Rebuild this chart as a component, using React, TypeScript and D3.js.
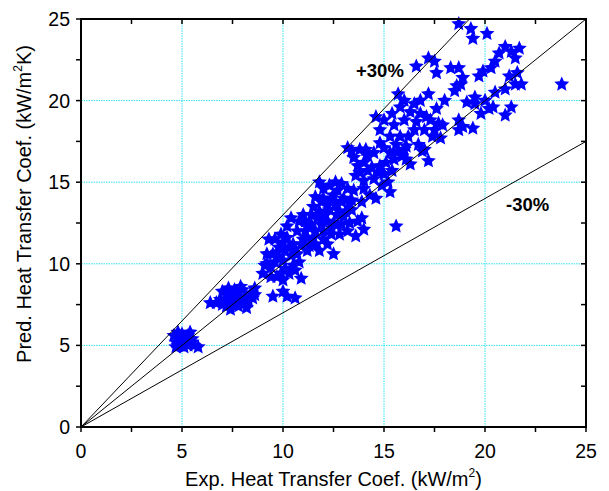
import React from 'react'
import * as d3 from 'd3'

// exp. vs predicted heat transfer coefficient, kW/m2
const lowRange: [number, number][] = [
  [4.6, 5.6], [4.7, 5.2], [4.8, 5.0], [4.9, 5.4], [5.0, 5.7], [5.0, 5.1], [5.1, 4.9],
  [5.2, 5.3], [5.3, 5.0], [5.4, 5.8], [5.5, 5.2], [5.6, 5.0], [5.8, 4.9], [4.8, 5.8],
  [5.2, 5.5], [5.0, 5.3], [4.7, 4.9], [5.3, 5.6], [5.5, 5.4], [4.9, 5.0],
  [6.4, 7.6], [6.7, 7.6], [7.0, 8.3], [7.1, 7.8], [7.2, 7.4], [7.3, 8.5], [7.5, 8.0],
  [7.6, 7.6], [7.7, 8.2], [7.8, 7.4], [8.0, 8.4], [8.1, 7.9], [8.2, 7.3], [8.4, 8.2],
  [8.6, 8.5], [8.5, 7.9], [7.4, 7.2], [6.9, 7.8], [8.0, 7.6], [7.9, 8.6], [7.2, 8.1],
  [7.6, 8.4], [8.3, 7.7], [7.0, 7.5], [7.4, 7.8], [7.8, 8.0], [8.6, 8.1]
]

const midRange: [number, number][] = [
  [9.5, 8.0], [10.0, 8.3], [10.2, 8.0], [10.6, 7.9], [10.9, 9.1], [9.0, 9.4], [9.2, 10.0],
  [9.4, 9.8], [9.5, 10.6], [9.6, 11.5], [9.8, 11.0], [10.0, 10.2], [10.1, 9.7], [10.3, 9.4],
  [10.4, 10.5], [10.5, 11.2], [9.3, 11.5], [9.9, 11.8], [10.2, 12.3], [10.4, 12.8],
  [10.6, 9.6], [9.7, 9.2], [10.8, 10.1], [9.1, 9.9], [9.8, 10.4], [10.3, 11.0],
  [9.9, 9.4], [10.1, 10.8], [10.7, 10.6], [9.6, 10.1], [10.0, 9.0], [10.2, 11.6],
  [9.4, 9.2], [9.7, 10.7], [10.5, 9.9], [10.0, 11.3], [9.2, 10.6], [10.6, 10.9],
  [10.7, 12.0], [10.8, 12.6], [11.0, 11.5], [11.0, 13.0], [11.2, 10.8], [11.3, 12.2],
  [11.5, 11.6], [11.5, 13.5], [11.7, 12.8], [11.8, 10.8], [12.0, 12.0], [12.0, 14.0],
  [12.2, 11.2], [12.3, 13.3], [12.5, 10.6], [12.5, 12.5], [12.7, 14.5], [12.8, 11.8],
  [13.0, 12.9], [13.0, 14.0], [13.2, 12.0], [13.4, 13.3], [13.6, 11.7], [13.7, 12.6],
  [14.0, 12.1], [13.9, 12.8], [11.1, 12.0], [11.4, 12.4], [11.6, 11.2], [11.9, 12.4],
  [12.1, 13.0], [12.4, 11.8], [12.6, 13.6], [12.9, 12.4], [13.3, 13.7], [11.2, 11.6],
  [10.9, 11.2], [11.1, 12.6], [11.3, 11.1], [11.6, 12.0], [11.8, 13.2], [12.2, 12.6],
  [12.4, 12.2], [12.7, 13.0], [12.9, 13.8], [13.1, 13.2], [11.4, 13.0], [12.0, 11.5],
  [11.8, 15.0], [12.0, 14.6], [12.3, 14.8], [12.5, 14.2], [11.9, 13.8], [12.6, 15.0],
  [11.6, 14.1], [12.2, 13.6], [12.8, 13.2], [13.5, 14.5], [12.4, 14.0], [13.2, 14.6],
  [12.9, 14.9], [13.4, 13.9], [12.7, 12.4], [13.3, 12.5]
]

const highRange: [number, number][] = [
  [13.2, 17.1], [13.5, 16.5], [13.6, 15.4], [13.8, 17.0], [14.0, 16.2], [14.0, 14.6],
  [14.2, 15.7], [14.3, 14.2], [14.5, 16.8], [14.5, 15.2], [14.8, 16.0], [15.0, 15.5],
  [15.0, 17.1], [15.3, 14.4], [15.5, 16.4], [15.2, 15.0], [13.9, 13.8], [14.6, 14.0],
  [14.1, 17.0], [13.7, 16.0], [14.4, 15.9], [14.9, 14.8], [15.6, 12.3], [13.8, 15.6],
  [14.2, 16.6], [14.7, 15.6], [15.1, 16.2], [15.4, 15.7], [13.4, 16.9], [14.0, 15.1],
  [15.7, 16.9], [16.1, 17.2], [15.3, 16.8], [14.8, 17.4],
  [14.6, 19.0], [14.8, 18.2], [15.0, 18.8], [15.3, 17.8], [15.5, 18.5], [15.6, 17.3],
  [15.7, 20.4], [15.8, 19.6], [16.0, 17.0], [16.0, 18.8], [16.2, 17.8], [16.3, 16.1],
  [16.5, 19.8], [16.5, 18.2], [16.7, 17.3], [16.8, 20.0], [15.9, 16.6], [16.1, 16.4],
  [15.8, 17.8], [16.3, 19.3], [16.6, 18.7], [15.4, 19.2], [16.0, 20.0],
  [16.6, 22.1], [17.2, 22.6], [17.5, 22.4], [17.6, 21.7], [17.1, 19.0], [17.2, 20.4],
  [17.3, 18.8], [17.0, 17.0], [17.2, 16.3], [17.5, 18.2], [17.7, 18.6], [17.8, 17.7],
  [17.6, 19.5], [17.4, 17.8], [17.9, 18.5], [16.9, 16.9], [17.0, 18.2], [16.8, 19.2],
  [18.7, 24.7], [19.3, 24.4], [19.4, 23.8], [20.1, 24.1], [18.3, 22.0], [18.7, 22.0],
  [18.9, 21.4], [18.8, 21.0], [18.5, 20.6], [18.6, 20.9], [18.0, 20.0], [19.1, 19.9],
  [19.5, 20.2], [19.7, 21.5], [19.9, 21.8], [20.0, 20.0], [19.8, 19.2], [20.2, 19.5],
  [20.3, 22.0], [20.5, 22.4], [20.7, 22.9], [21.0, 23.3], [21.3, 23.0], [21.5, 22.6],
  [21.7, 23.2], [21.2, 21.5], [21.5, 21.0], [21.8, 21.0], [21.0, 20.7], [21.0, 19.1],
  [21.3, 19.6], [19.4, 18.3], [18.7, 18.8], [18.7, 18.2], [18.9, 18.4], [20.5, 20.5],
  [21.6, 21.7], [23.8, 21.0], [20.4, 19.6], [19.5, 19.8]
]

const xTicks = [0, 5, 10, 15, 20, 25]
const yTicks = [0, 5, 10, 15, 20, 25]
const minorTicks = [2.5, 7.5, 12.5, 17.5, 22.5]
const gridValues = [5, 10, 15, 20]
const bandFactors = [1.3, 1, 0.7]

// five-point star with fatter arms than d3.symbolStar
const fatStar = {
  draw(context: any, size: number) {
    const r = Math.sqrt(size / 1.3)
    const ri = r * 0.47
    for (let i = 0; i < 10; i++) {
      const a = (Math.PI / 5) * i - Math.PI / 2
      const rr = i % 2 === 0 ? r : ri
      if (i === 0) context.moveTo(rr * Math.cos(a), rr * Math.sin(a))
      else context.lineTo(rr * Math.cos(a), rr * Math.sin(a))
    }
    context.closePath()
  }
}

const App = () => {
  const margin = {top: 19, right: 23, bottom: 64, left: 81}
  const width = 609
  const height = 491
  const x = d3.scaleLinear().domain([0, 25]).range([margin.left, width - margin.right])
  const y = d3.scaleLinear().domain([0, 25]).range([height - margin.bottom, margin.top])
  const x0 = x(0), x1 = x(25), y0 = y(0), y1 = y(25)

  const star = d3.symbol().type(fatStar as any).size(80)()
  const allPoints = [...lowRange, ...midRange, ...highRange]
  const tickLen = 5
  const font = 'Arial, "Liberation Sans", sans-serif'

  return (
    <svg width={width} height={height} style={{position: 'absolute', left: 0, top: 0, background: '#fff'}}
      fontFamily={font}>
      {/* grid */}
      {gridValues.map(v => (
        <g key={'g' + v} stroke="#2fe3f0" strokeWidth={1} strokeDasharray="1.5,1">
          <line x1={x(v)} x2={x(v)} y1={y0} y2={y1} />
          <line x1={x0} x2={x1} y1={y(v)} y2={y(v)} />
        </g>
      ))}

      {/* points */}
      {allPoints.map((d, i) => (
        <path key={i} d={star!} transform={`translate(${x(d[0])},${y(d[1])})`} fill="#0000ff" />
      ))}

      {/* +-30% lines */}
      {bandFactors.map(f => {
        const end = Math.min(25, 25 / f)
        return <line key={'b' + f} x1={x(0)} y1={y(0)} x2={x(end)} y2={y(end * f)}
          stroke="#000" strokeWidth={1} />
      })}

      {/* ticks */}
      {[...xTicks, ...minorTicks].map(v => (
        <g key={'t' + v} stroke="#000" strokeWidth={1.5}>
          <line x1={x(v)} x2={x(v)} y1={y0} y2={y0 + tickLen} />
          <line x1={x(v)} x2={x(v)} y1={y1} y2={y1 + tickLen} />
          <line x1={x0} x2={x0 - tickLen} y1={y(v)} y2={y(v)} />
          <line x1={x1} x2={x1 - tickLen} y1={y(v)} y2={y(v)} />
        </g>
      ))}

      {/* frame */}
      <rect x={x0} y={y1} width={x1 - x0} height={y0 - y1} fill="none" stroke="#000" strokeWidth={2} />

      {/* tick labels */}
      {xTicks.map(v => (
        <text key={'xl' + v} x={x(v)} y={y0 + 31} textAnchor="middle" fontSize={19.5}>{v}</text>
      ))}
      {yTicks.map(v => (
        <text key={'yl' + v} x={x0 - 11} y={y(v) + 7} textAnchor="end" fontSize={19.5}>{v}</text>
      ))}

      {/* axis titles */}
      <text x={(x0 + x1) / 2} y={486} textAnchor="middle" fontSize={20}>
        Exp. Heat Transfer Coef. (kW/m<tspan fontSize={12} dy={-9}>2</tspan><tspan dy={9}>)</tspan>
      </text>
      <text transform="translate(31,204) rotate(-90)" textAnchor="middle" fontSize={20}>
        Pred. Heat Transfer Coef. (kW/m<tspan fontSize={12} dy={-9}>2</tspan><tspan dy={9}>K)</tspan>
      </text>

      {/* band labels */}
      <text x={356} y={77} fontSize={18.5} fontWeight="bold">+30%</text>
      <text x={506} y={211} fontSize={18.5} fontWeight="bold">-30%</text>
    </svg>
  )
}

export default App
